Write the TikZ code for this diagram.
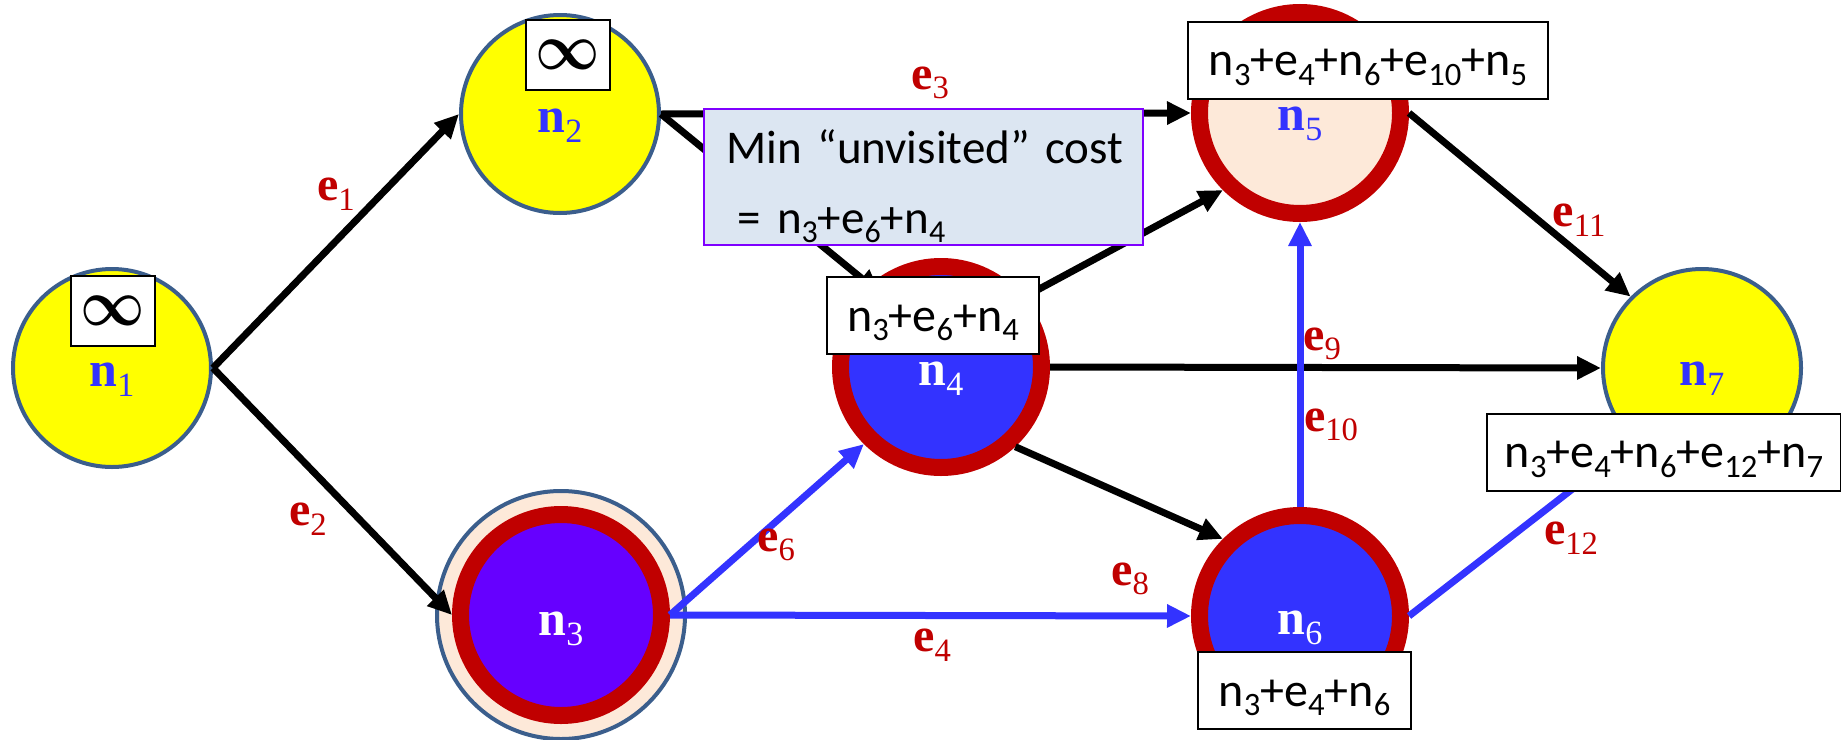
\documentclass[tikz,border=0pt]{standalone}
\usepackage{graphicx}
\usepackage{fontspec}
\setmainfont{Carlito}
\newfontfamily\tnr{Liberation Serif}
\usetikzlibrary{arrows.meta}
\definecolor{ylw}{HTML}{FFFF00}
\definecolor{nodeb}{HTML}{3B5E8C}
\definecolor{ring}{HTML}{C00000}
\definecolor{nblue}{HTML}{3333FF}
\definecolor{npurp}{HTML}{6600FF}
\definecolor{peach}{HTML}{FDE9D9}
\definecolor{minfill}{HTML}{DCE6F2}
\definecolor{minbord}{HTML}{7F00FF}
\newcommand\lo[1]{\raisebox{-0.2em}{\scalebox{0.68}{#1}}}
\tikzset{
  yelnode/.style={circle, draw=nodeb, line width=4pt, fill=ylw, minimum size=198pt, inner sep=0pt},
  ringnode/.style={circle, draw=ring, line width=17pt, minimum size=201pt, inner sep=0pt},
  nlab/.style={font=\tnr\fontsize{50}{60}\selectfont\bfseries, anchor=base, inner sep=0pt},
  elab/.style={font=\tnr\fontsize{48}{58}\selectfont\bfseries, text=ring, inner sep=0pt},
  blk/.style={line width=7pt, -{Triangle[length=24pt,width=22pt]}},
  blu/.style={blk, draw=nblue},
  infbox/.style={draw, line width=2pt, fill=white, minimum width=84pt, minimum height=70pt, inner sep=0pt},
  costbox/.style={draw, line width=2pt, fill=white, minimum height=77pt, text height=44pt, text depth=13pt, inner sep=0pt, font=\fontsize{48}{58}\selectfont}
}
\begin{document}
\begin{tikzpicture}[x=1pt, y=-1pt]
\useasboundingbox (0,0) rectangle (1841,739);
% nodes
\node[yelnode] (n1) at (112,368) {};
\node[yelnode] (n2) at (560,114) {};
\node[circle, draw=nodeb, line width=4pt, fill=peach, minimum size=248pt, inner sep=0pt] (n3o) at (561,615) {};
\node[ringnode, fill=npurp] (n3) at (561,615) {};
\node[ringnode, fill=nblue] (n4) at (941,367) {};
\node[ringnode, fill=peach] (n5) at (1300,113) {};
\node[ringnode, fill=nblue] (n6) at (1300,616) {};
\node[yelnode] (n7) at (1702,368) {};
% edges
\draw[blk] (n1.east) -- (n2.west);
\draw[blk] (n1.east) -- (n3.west);
\draw[blk] (n2.east) -- (n5.west);
\draw[blk, shorten >=-14pt] (n2.east) -- (n4.131);
\draw[blk] (n4.40) -- (n5.225);
\draw[blk] (n4.east) -- (n7.west);
\draw[blk] (n4.-47) -- (n6.135);
\draw[blk] (n5.east) -- (n7.135);
\draw[blu] (n6.north) -- (n5.south);
\draw[blu] (n3.east) -- (n4.225);
\draw[blu] (n3.east) -- (n6.west);
\draw[blu] (n6.east) -- (n7.227);
% node labels
\node[nlab, text=nblue] (l1) at ([yshift=-18pt]n1.center) {n\lo{\mdseries 1}};
\node[nlab, text=nblue] (l2) at ([yshift=-18pt]n2.center) {n\lo{\mdseries 2}};
\node[nlab, text=white] (l3) at ([yshift=-20pt]n3.center) {n\lo{\mdseries 3}};
\node[nlab, text=white] (l4) at ([yshift=-18pt]n4.center) {n\lo{\mdseries 4}};
\node[nlab, text=nblue] (l5) at ([yshift=-17pt]n5.center) {n\lo{\mdseries 5}};
\node[nlab, text=white] (l6) at ([yshift=-18pt]n6.center) {n\lo{\mdseries 6}};
\node[nlab, text=nblue] (l7) at ([yshift=-17pt]n7.center) {n\lo{\mdseries 7}};
% edge labels
\node[elab] (e1) at (336,194) {e\lo{\mdseries 1}};
\node[elab] (e2) at (308,519) {e\lo{\mdseries 2}};
\node[elab] (e3) at (930,83) {e\lo{\mdseries 3}};
\node[elab] (e6) at (776,545) {e\lo{\mdseries 6}};
\node[elab] (e4) at (932,645) {e\lo{\mdseries 4}};
\node[elab] (e8) at (1130,579) {e\lo{\mdseries 8}};
\node[elab] (e9) at (1322,344) {e\lo{\mdseries 9}};
\node[elab] (e10) at (1331,425) {e\lo{\mdseries 10}};
\node[elab] (e11) at (1579,220) {e\lo{\mdseries 11}};
\node[elab] (e12) at (1571,538) {e\lo{\mdseries 12}};
% infinity boxes
\node[infbox] (i1) at (113,311) {\scalebox{5.6}[6.6]{\boldmath$\infty$}};
\node[infbox] (i2) at (567.5,54.5) {\scalebox{5.6}[6.6]{\boldmath$\infty$}};
% cost boxes
\node[costbox, minimum width=212pt] (c4) at (933,315.5) {n\lo{3}+e\lo{6}+n\lo{4}};
\node[costbox, minimum width=360pt] (c5) at (1368,60) {n\lo{3}+e\lo{4}+n\lo{6}+e\lo{10}+n\lo{5}};
\node[costbox, minimum width=213pt] (c6) at (1304.5,690.5) {n\lo{3}+e\lo{4}+n\lo{6}};
\node[costbox, minimum width=354pt] (c7) at (1664,452) {n\lo{3}+e\lo{4}+n\lo{6}+e\lo{12}+n\lo{7}};
% min box
\node[draw=minbord, line width=2pt, fill=minfill, minimum width=439pt, minimum height=136pt, inner sep=0pt] (minbox) at (923.5,177) {};
\node[anchor=base west, inner sep=0pt, text width=430pt, align=left, font=\fontsize{47}{57}\selectfont] (mintxt) at (726,163) {\fontsize{47}{57}\selectfont Min “unvisited” cost\\[13pt]\hspace*{0.25em}= n\lo{3}+e\lo{6}+n\lo{4}};
\end{tikzpicture}
\end{document}
